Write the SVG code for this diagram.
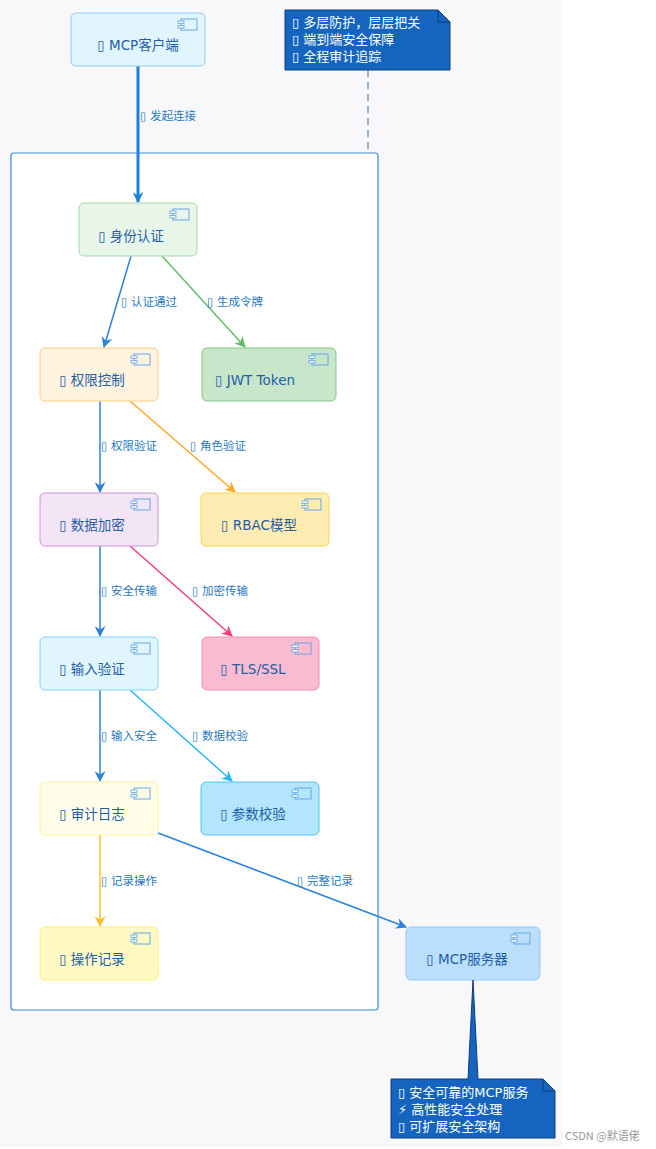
<svg xmlns="http://www.w3.org/2000/svg" width="656" height="1149" viewBox="0 0 656 1149">
<style>
text{font-family:"DejaVu Sans","Noto Sans CJK SC",sans-serif}
.n{font-size:13.5px;fill:#1f5fa8}
.l{font-size:11.5px;fill:#2a78c0}
.w{font-size:13px;fill:#fff}
.e{fill:none;stroke-width:1.5}
.ic rect{fill:none;stroke:#64a8e8;stroke-width:1}
.ic rect.t{fill:#f4f9ff;stroke-width:0.8}
</style>
<defs>
<marker id="a" viewBox="0 0 10 10" refX="9" refY="5" markerWidth="11" markerHeight="11" orient="auto-start-reverse" markerUnits="userSpaceOnUse"><path d="M0,0 L10,5 L0,10 L3,5 Z" fill="context-stroke"/></marker>
<g id="icon" class="ic"><rect x="3" y="0" width="16" height="11"/><rect class="t" x="0" y="2" width="6" height="2.5"/><rect class="t" x="0" y="6.5" width="6" height="2.5"/></g>
</defs>
<rect x="0" y="0" width="562" height="1147" fill="#f8f8fb"/>
<rect x="11" y="153" width="367" height="857" rx="3" fill="#fff" stroke="#3b8ad8" stroke-width="1.2"/>
<g id="note1">
<path d="M285,10 H438 L450,22 V70 H285 Z" fill="#1565c0" stroke="#0d3c7a"/>
<path d="M438,10 V22 H450" fill="none" stroke="#0d3c7a"/>
<text class="w" x="292" y="27">▯ 多层防护，层层把关</text>
<text class="w" x="292" y="44">▯ 端到端安全保障</text>
<text class="w" x="292" y="61">▯ 全程审计追踪</text>
</g>
<line x1="368" y1="70" x2="368" y2="152" stroke="#1e6fb8" stroke-dasharray="7,5"/>
<g id="connectors">
<path class="e" d="M138,66 V202" stroke="#1e7fd8" style="stroke-width:3" marker-end="url(#a)"/>
<text class="l" x="140" y="120">▯ 发起连接</text>
<path class="e" d="M131,256 L104,347" stroke="#2b84dc" marker-end="url(#a)"/>
<text class="l" x="121" y="306">▯ 认证通过</text>
<path class="e" d="M162,256 L245,347" stroke="#66bb6a" marker-end="url(#a)"/>
<text class="l" x="207" y="306">▯ 生成令牌</text>
<path class="e" d="M100,401 V492" stroke="#2b84dc" marker-end="url(#a)"/>
<text class="l" x="101" y="450">▯ 权限验证</text>
<path class="e" d="M130,401 L235,492" stroke="#ffa726" marker-end="url(#a)"/>
<text class="l" x="190" y="450">▯ 角色验证</text>
<path class="e" d="M100,546 V636" stroke="#2b84dc" marker-end="url(#a)"/>
<text class="l" x="101" y="595">▯ 安全传输</text>
<path class="e" d="M130,546 L232,636" stroke="#ec407a" marker-end="url(#a)"/>
<text class="l" x="192" y="595">▯ 加密传输</text>
<path class="e" d="M100,690 V781" stroke="#2b84dc" marker-end="url(#a)"/>
<text class="l" x="101" y="740">▯ 输入安全</text>
<path class="e" d="M130,690 L232,781" stroke="#29b6f6" marker-end="url(#a)"/>
<text class="l" x="192" y="740">▯ 数据校验</text>
<path class="e" d="M100,835 V926" stroke="#fbc02d" marker-end="url(#a)"/>
<text class="l" x="101" y="885">▯ 记录操作</text>
<path class="e" d="M158,833 L406,927" stroke="#2b84dc" marker-end="url(#a)"/>
<text class="l" x="297" y="885">▯ 完整记录</text>
</g>
<g id="client"><rect x="71" y="13" width="134" height="53" rx="5" fill="#e1f5fe" stroke="#90caf9"/><use href="#icon" x="178" y="19"/><text class="n" x="138" y="50" text-anchor="middle">▯ MCP客户端</text></g>
<g id="auth"><rect x="79" y="203" width="118" height="53" rx="5" fill="#e8f5e9" stroke="#a5d6a7"/><use href="#icon" x="170" y="209"/><text class="n" x="131" y="241" text-anchor="middle">▯ 身份认证</text></g>
<g id="perm"><rect x="40" y="348" width="118" height="53" rx="5" fill="#fff3e0" stroke="#ffcc80"/><use href="#icon" x="131" y="354"/><text class="n" x="92" y="385" text-anchor="middle">▯ 权限控制</text></g>
<g id="jwt"><rect x="202" y="348" width="134" height="53" rx="5" fill="#c8e6c9" stroke="#81c784"/><use href="#icon" x="309" y="354"/><text class="n" x="255" y="385" text-anchor="middle">▯ JWT Token</text></g>
<g id="enc"><rect x="40" y="493" width="118" height="53" rx="5" fill="#f3e5f5" stroke="#ce93d8"/><use href="#icon" x="131" y="499"/><text class="n" x="92" y="530" text-anchor="middle">▯ 数据加密</text></g>
<g id="rbac"><rect x="201" y="493" width="128" height="53" rx="5" fill="#ffecb3" stroke="#ffd54f"/><use href="#icon" x="302" y="499"/><text class="n" x="259" y="530" text-anchor="middle">▯ RBAC模型</text></g>
<g id="input"><rect x="40" y="637" width="118" height="53" rx="5" fill="#e1f5fe" stroke="#81d4fa"/><use href="#icon" x="131" y="643"/><text class="n" x="92" y="674" text-anchor="middle">▯ 输入验证</text></g>
<g id="tls"><rect x="202" y="637" width="117" height="53" rx="5" fill="#f8bbd0" stroke="#f48fb1"/><use href="#icon" x="292" y="643"/><text class="n" x="253" y="674" text-anchor="middle">▯ TLS/SSL</text></g>
<g id="audit"><rect x="40" y="782" width="118" height="53" rx="5" fill="#fffde7" stroke="#fff59d"/><use href="#icon" x="131" y="788"/><text class="n" x="92" y="819" text-anchor="middle">▯ 审计日志</text></g>
<g id="param"><rect x="201" y="782" width="118" height="53" rx="5" fill="#b3e5fc" stroke="#4fc3f7"/><use href="#icon" x="292" y="788"/><text class="n" x="253" y="819" text-anchor="middle">▯ 参数校验</text></g>
<g id="oplog"><rect x="40" y="927" width="118" height="53" rx="5" fill="#fff9c4" stroke="#fff176"/><use href="#icon" x="131" y="933"/><text class="n" x="92" y="964" text-anchor="middle">▯ 操作记录</text></g>
<g id="server"><rect x="406" y="927" width="134" height="53" rx="5" fill="#bbdefb" stroke="#90caf9"/><use href="#icon" x="511" y="933"/><text class="n" x="467" y="964" text-anchor="middle">▯ MCP服务器</text></g>
<g id="note2">
<path d="M391,1079 H468 L473,980 L478,1079 H543 L555,1091 V1138 H391 Z" fill="#1565c0" stroke="#0d3c7a"/>
<path d="M543,1079 V1091 H555" fill="none" stroke="#0d3c7a"/>
<text class="w" x="398" y="1097">▯ 安全可靠的MCP服务</text>
<text class="w" x="398" y="1114">⚡ 高性能安全处理</text>
<text class="w" x="398" y="1131">▯ 可扩展安全架构</text>
</g>
<text x="565" y="1140" font-size="11" fill="#999" style="font-family:'Noto Sans CJK SC',sans-serif">CSDN @默语佬</text>
</svg>
